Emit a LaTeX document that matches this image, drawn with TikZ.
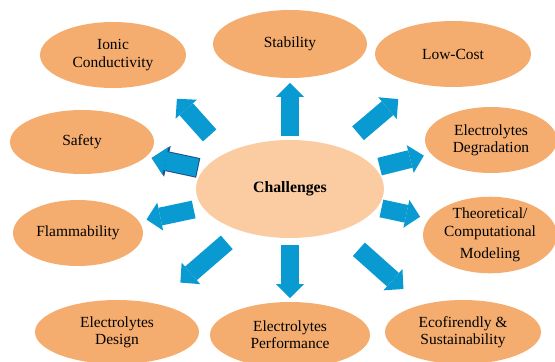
\documentclass[tikz,border=0pt]{standalone}
\usepackage{fontspec}
\setmainfont{Liberation Serif}
\usetikzlibrary{arrows.meta,shapes.geometric}
\definecolor{ChalOrange}{HTML}{F5AD6F}
\definecolor{ChalPeach}{HTML}{FBCBA2}
\definecolor{ChalBlue}{HTML}{0A9AD2}
\definecolor{ChalNavy}{HTML}{1F4E8C}
\tikzset{
  bub/.style={ellipse,fill=ChalOrange,inner sep=0pt,outer sep=0pt,align=center,font=\fontsize{8.8}{9.9}\selectfont},
  fat/.style={ChalBlue,line width=0.36cm,-{Triangle[width=0.57cm,length=0.28cm,line width=0pt]}},
  rim/.style={preaction={draw=ChalNavy,line width=0.40cm,shorten <=0.12cm,-{Triangle[width=0.63cm,length=0.32cm,line width=0pt]}}}
}

\begin{document}
\begin{tikzpicture}[x=0.02cm,y=-0.02cm]
\clip (0,0) rectangle (555,362);
\fill[white] (0,0) rectangle (555,362);
% hub
\node[bub,fill=ChalPeach,minimum width=3.76cm,minimum height=1.96cm,font=\fontsize{9}{10}\selectfont\bfseries] (c) at (290,189) {Challenges};
% outer bubbles: name/x/y/width/height/text
\foreach \n/\x/\y/\w/\h/\t in {ionic/113/55/2.92/1.32/{Ionic\\Conductivity},stab/290/44/3.08/1.36/{Stability},lowcost/453/54/3.12/1.32/{Low-Cost},
  safety/82/142/2.88/1.28/{Safety},degr/491/140/2.64/1.32/{Electrolytes\\Degradation},flamm/78/233/2.60/1.32/{Flammability},
  theo/490/235/2.68/1.52/{Theoretical/\\Computational\\[3pt]Modeling},design/117/332/3.28/1.28/{Electrolytes\\Design},
  perf/290/335/3.20/1.32/{Electrolytes\\Performance},eco/463/332/3.12/1.28/{Ecofirendly \&\\Sustainability}}
  {\node[bub,minimum width=\w cm,minimum height=\h cm] (\n) at (\x,\y) {\t};}
% block arrows out of the hub
\foreach \a/\b/\s/\e in {c.north/stab.south/0.08/0.10,c.151/ionic.-28/0.48/0.50,c.39/lowcost.-141/0.45/0.49,
  c.14/degr.-167/0.10/0.15,c.192/flamm.11/0.19/0.16,c.-12/theo.165/0.09/0.19,
  c.220/design.36/0.36/0.65,c.south/perf.north/0.14/0.08,c.-41/eco.147/0.55/0.48}
  {\draw[fat,shorten <=\s cm,shorten >=\e cm] (\a) -- (\b);}
\draw[fat,rim,shorten <=0.14cm,shorten >=0.12cm] (c.167) -- (safety.-13);
\end{tikzpicture}
\end{document}
